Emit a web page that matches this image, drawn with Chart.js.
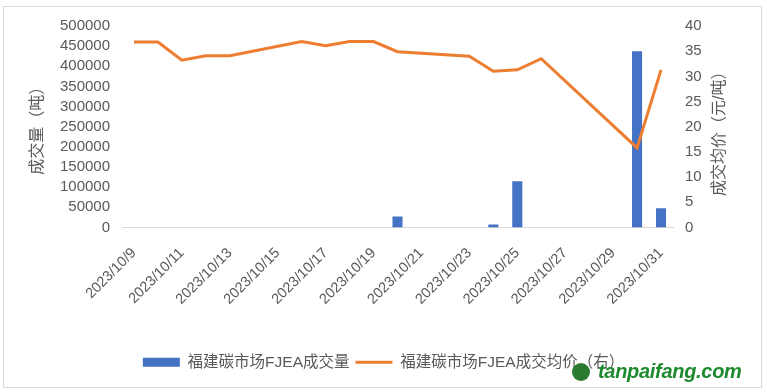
<!DOCTYPE html>
<html>
<head>
<meta charset="utf-8">
<title>福建碳市场FJEA</title>
<script src="https://cdn.jsdelivr.net/npm/chart.js@4.4.0/dist/chart.umd.min.js"></script>
<style>
  body { margin: 0; background: #fff; }
  #frame { position: absolute; left: 3px; top: 6px; width: 757px; height: 380px; border: 1px solid #d9d9d9; }
  #wrap { position: absolute; left: 0; top: 0; width: 767px; height: 392px; }
  #mark { position: absolute; left: 572px; top: 360px; font: italic bold 20px "Liberation Sans", Arial, sans-serif; color: #1e8a2e; letter-spacing: -0.3px; }
  #mark span { display: inline-block; width: 18px; height: 18px; border-radius: 50%; background: #2a7a30; vertical-align: -3px; margin-right: 8px; }
</style>
</head>
<body>
<div id="frame"></div>
<div id="wrap"><canvas id="myChart" width="767" height="392"></canvas></div>
<div id="mark"><span></span>tanpaifang.com</div>
<script>
// dates on the x axis (every calendar day)
const dates = ['2023/10/9','2023/10/10','2023/10/11','2023/10/12','2023/10/13','2023/10/14','2023/10/15',
  '2023/10/16','2023/10/17','2023/10/18','2023/10/19','2023/10/20','2023/10/21','2023/10/22',
  '2023/10/23','2023/10/24','2023/10/25','2023/10/26','2023/10/27','2023/10/28','2023/10/29',
  '2023/10/30','2023/10/31'];

// 成交量 (吨)
const volume = [null,null,null,null,null,null,null,
  null,null,null,null,27500,null,null,
  null,7500,115000,null,null,null,null,
  437500,47500];

// 成交均价 (元/吨)
const price = [36.8,36.8,33.2,34.1,34.1,null,null,
  36.9,36.1,36.9,36.9,34.9,null,null,
  34.0,31.0,31.3,33.5,null,null,null,
  15.8,31.3];

const volumeName = '福建碳市场FJEA成交量';
const priceName = '福建碳市场FJEA成交均价（右）';
const leftTitle = '成交量（吨）';
const rightTitle = '成交均价（元/吨）';

const fontFamily = '"Liberation Sans", "Noto Sans CJK SC", sans-serif';
const textColor = '#595959';

// right axis title reads bottom to top, like the left one
const rightTitlePlugin = {
  id: 'rightTitle',
  afterDraw(chart) {
    const c = chart.ctx;
    const a = chart.chartArea;
    c.save();
    c.translate(720, (a.top + a.bottom) / 2 + 3);
    c.rotate(-Math.PI / 2);
    c.textAlign = 'center';
    c.textBaseline = 'middle';
    c.fillStyle = textColor;
    c.font = '16px ' + fontFamily;
    c.fillText(rightTitle, 0, 0);
    c.restore();
  }
};

const ctx = document.getElementById('myChart');
const myChart = new Chart(ctx, {
  data: {
    labels: dates,
    datasets: [
      {
        type: 'line',
        label: priceName,
        data: price,
        yAxisID: 'y1',
        borderColor: '#ED7D31',
        backgroundColor: '#ED7D31',
        borderWidth: 3,
        pointRadius: 0,
        pointStyle: 'line',
        spanGaps: true,
        tension: 0,
        order: 1
      },
      {
        type: 'bar',
        label: volumeName,
        data: volume,
        yAxisID: 'y',
        backgroundColor: '#4472C4',
        pointStyle: 'rect',
        categoryPercentage: 1,
        barPercentage: 0.42,
        order: 2
      }
    ]
  },
  plugins: [rightTitlePlugin],
  options: {
    responsive: false,
    animation: false,
    layout: { padding: { left: 0, right: 0, top: 26, bottom: 12 } },
    plugins: {
      tooltip: { enabled: false },
      legend: {
        position: 'bottom',
        reverse: true,
        labels: {
          usePointStyle: true,
          pointStyleWidth: 37,
          boxHeight: 9,
          padding: 6,
          color: textColor,
          font: { family: fontFamily, size: 15.5 }
        }
      }
    },
    scales: {
      x: {
        grid: { display: false, drawTicks: false },
        border: { color: '#d9d9d9' },
        ticks: {
          autoSkip: false,
          maxRotation: 45,
          minRotation: 45,
          padding: 17,
          color: textColor,
          font: { family: fontFamily, size: 14.5 },
          callback: function(v, i) { return i % 2 === 0 ? dates[i] : ''; }
        },
        afterFit: function(axis) { axis.height = 121; }
      },
      y: {
        position: 'left',
        min: 0,
        max: 500000,
        grid: { display: false, drawTicks: false },
        border: { display: false },
        ticks: {
          stepSize: 50000,
          autoSkip: false,
          padding: 12,
          color: textColor,
          font: { family: fontFamily, size: 15 },
          callback: function(v) { return String(v); }
        },
        title: { display: true, text: leftTitle, color: textColor, padding: { top: 28 }, font: { family: fontFamily, size: 16 } },
        afterFit: function(axis) { axis.width = 122; }
      },
      y1: {
        position: 'right',
        min: 0,
        max: 40,
        grid: { display: false, drawTicks: false },
        border: { display: false },
        ticks: {
          stepSize: 5,
          autoSkip: false,
          padding: 12,
          color: textColor,
          font: { family: fontFamily, size: 15 }
        },
        afterFit: function(axis) { axis.width = 94; }
      }
    }
  }
});
</script>
</body>
</html>
